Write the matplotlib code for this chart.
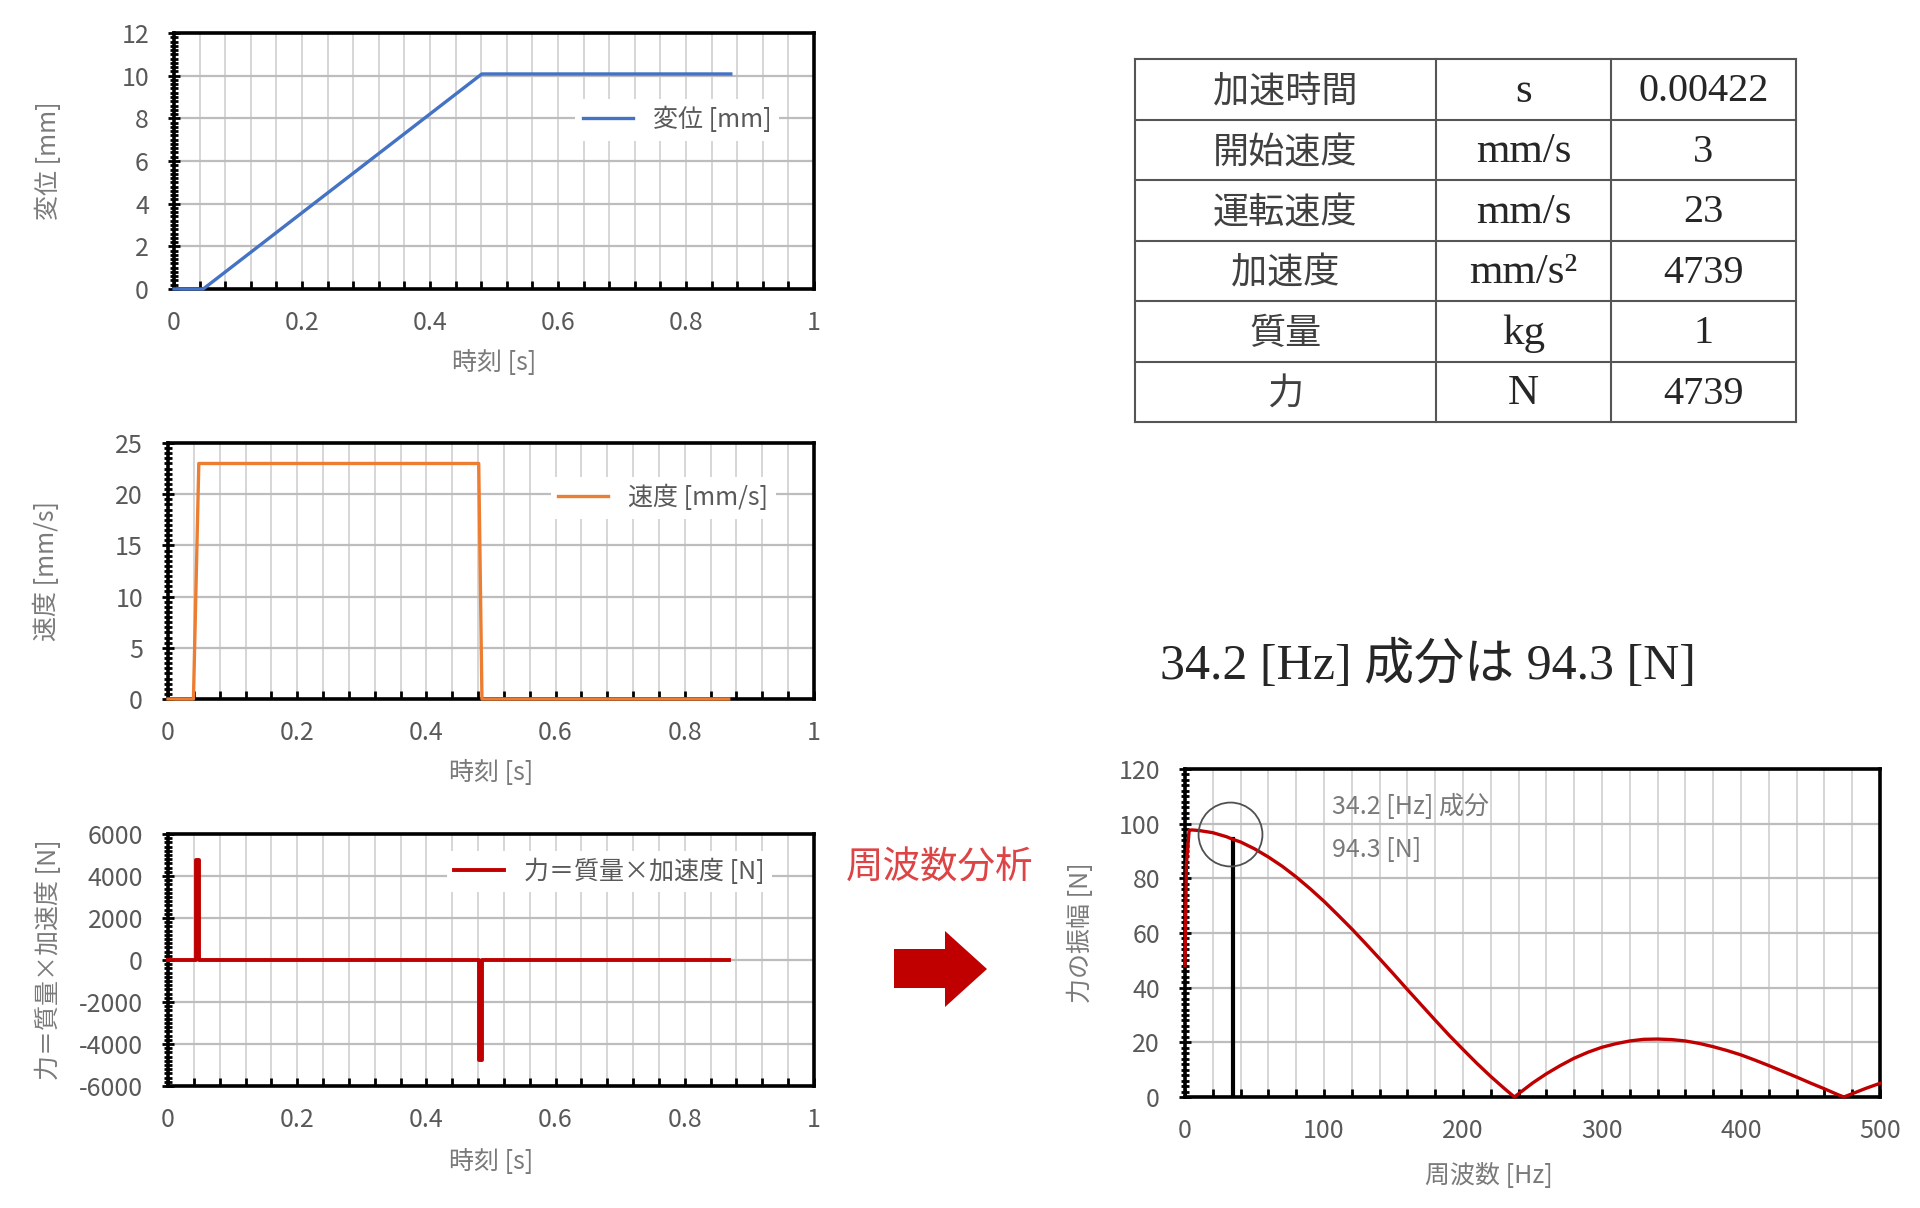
import matplotlib
matplotlib.use('Agg')
import matplotlib.pyplot as plt
from matplotlib.ticker import MultipleLocator, FuncFormatter
from matplotlib.patches import Polygon

plt.rcParams['font.family'] = ['Noto Sans CJK JP', 'DejaVu Sans']
plt.rcParams['axes.unicode_minus'] = False

# ---- データ ----
disp_t = [0, 0.0456, 0.481, 0.870]
disp_mm = [0, 0, 10.08, 10.08]

vel_t = [0, 0.0394, 0.0477, 0.481, 0.486, 0.868]
vel_mms = [0, 0, 23, 23, 0, 0]

force_t = [0, 0.0437, 0.0437, 0.0479, 0.0479, 0.4812, 0.4812, 0.4854, 0.4854, 0.868]
force_n = [0, 0, 4739, 4739, 0, 0, -4739, -4739, 0, 0]

fft_f = [0, 1, 3, 5, 10, 20, 30, 34.2, 40, 50, 60, 70, 80, 90, 100, 110, 120, 130,
         140, 150, 160, 170, 180, 190, 200, 210, 220, 230, 237, 240, 250, 260, 270,
         280, 290, 300, 310, 320, 330, 340, 350, 360, 370, 380, 390, 400, 410, 420,
         430, 440, 450, 460, 470, 474, 480, 490, 500]
fft_amp = [48, 85, 97.6, 97.7, 97.5, 96.7, 95.2, 94.3, 93.3, 90.8, 87.8, 84.4, 80.5,
           76.2, 71.6, 66.6, 61.5, 56.1, 50.6, 45.0, 39.3, 33.7, 28.1, 22.6, 17.4,
           12.3, 7.5, 3.0, 0, 1.2, 5.1, 8.5, 11.5, 14.2, 16.4, 18.2, 19.5, 20.5, 21.1,
           21.2, 21.0, 20.5, 19.6, 18.4, 17.0, 15.4, 13.5, 11.5, 9.4, 7.3, 5.1, 3.0,
           0.8, 0, 1.2, 3.2, 5.0]

peak_f = 34.2
peak_amp = 94.3

param_names = ['加速時間', '開始速度', '運転速度', '加速度', '質量', '力']
param_units = ['s', 'mm/s', 'mm/s', 'mm/s²', 'kg', 'N']
param_values = ['0.00422', '3', '23', '4739', '1', '4739']

W, H = 1920, 1208
fig = plt.figure(figsize=(W / 100, H / 100), dpi=100)
fig.patch.set_facecolor('white')


def px_axes(l, t, r, b):
    return fig.add_axes([l / W, 1 - b / H, (r - l) / W, (b - t) / H])


TICK_C = '#595959'
LABEL_C = '#7a7a7a'


def style(ax, xlim, xmaj, xmin, ylim, ymaj, ymin):
    ax.set_xlim(*xlim)
    ax.set_ylim(*ylim)
    ax.xaxis.set_major_locator(MultipleLocator(xmaj))
    ax.xaxis.set_minor_locator(MultipleLocator(xmin))
    ax.yaxis.set_major_locator(MultipleLocator(ymaj))
    ax.yaxis.set_minor_locator(MultipleLocator(ymin))
    ax.xaxis.set_major_formatter(FuncFormatter(lambda v, p: f'{v:g}'))
    ax.yaxis.set_major_formatter(FuncFormatter(lambda v, p: f'{v:g}'))
    ax.set_axisbelow(True)
    ax.grid(which='major', axis='y', color='#bdbdbd', lw=1.6)
    ax.grid(which='both', axis='x', color='#d0d0d0', lw=1.2)
    for s in ax.spines.values():
        s.set_linewidth(2.6)
        s.set_color('black')
    ax.tick_params(axis='x', which='both', direction='in', length=6, width=2,
                   color='black', labelsize=18, labelcolor=TICK_C, pad=15)
    ax.tick_params(axis='y', which='major', direction='inout', length=8, width=2,
                   color='black', labelsize=18, labelcolor=TICK_C, pad=14)
    ax.tick_params(axis='y', which='minor', direction='inout', length=6, width=2,
                   color='black')


def labels(ax, xl, yl, xpos, ypos, xc=0.5):
    ax.set_xlabel(xl, fontsize=18, color=LABEL_C)
    ax.set_ylabel(yl, fontsize=18, color=LABEL_C)
    ax.xaxis.set_label_coords(xc, xpos)
    ax.yaxis.set_label_coords(ypos, 0.5)
    ax.xaxis.label.set_va('center')
    ax.yaxis.label.set_va('center')


def legend(ax, anchor):
    ax.legend(loc='center right', bbox_to_anchor=anchor, frameon=True,
              facecolor='white', edgecolor='none', framealpha=1, fancybox=False,
              fontsize=18, labelcolor=TICK_C, handlelength=2.0, borderpad=0.3)


# 変位
ax1 = px_axes(174, 33, 814, 289)
ax1.plot(disp_t, disp_mm, color='#4472c4', lw=2.4, label='変位 [mm]',
         zorder=5, clip_on=False)
style(ax1, (0, 1), 0.2, 0.04, (0, 12), 2, 0.2)
labels(ax1, '時刻 [s]', '変位 [mm]', -0.29, -0.195)
legend(ax1, (0.965, 0.66))

# 速度
ax2 = px_axes(168, 443, 814, 699)
ax2.plot(vel_t, vel_mms, color='#ed7d31', lw=2.4, label='速度 [mm/s]',
         zorder=5, clip_on=False)
style(ax2, (0, 1), 0.2, 0.04, (0, 25), 5, 0.5)
labels(ax2, '時刻 [s]', '速度 [mm/s]', -0.29, -0.187)
legend(ax2, (0.96, 0.785))

# 力
ax3 = px_axes(168, 834, 814, 1086)
ax3.plot(force_t, force_n, color='#c00000', lw=2.8, label='力＝質量×加速度 [N]',
         zorder=5, clip_on=False)
style(ax3, (0, 1), 0.2, 0.04, (-6000, 6000), 2000, 200)
labels(ax3, '時刻 [s]', '力＝質量×加速度 [N]', -0.30, -0.184)
legend(ax3, (0.955, 0.85))

# 周波数分析
ax4 = px_axes(1185, 769, 1880, 1097)
ax4.plot(fft_f, fft_amp, color='#c00000', lw=2.4, zorder=5, clip_on=False)
ax4.plot([peak_f, peak_f], [0, peak_amp], color='black', lw=3, zorder=4)
ax4.plot([32.6], [96.3], marker='o', ms=46, mfc='none', mec='#505050', mew=1.3, zorder=6)
style(ax4, (0, 500), 100, 20, (0, 120), 20, 2)
ax4.grid(which='minor', axis='x', color='#d0d0d0', lw=1.2)
labels(ax4, '周波数 [Hz]', '力の振幅 [N]', -0.24, -0.15, xc=0.437)
ax4.text(106, 106, f'{peak_f} [Hz] 成分', fontsize=18, color=LABEL_C, va='center')
ax4.text(106, 90.4, f'{peak_amp} [N]', fontsize=18, color=LABEL_C, va='center')

# 表
axt = px_axes(1135, 59, 1796, 422)
axt.set_xlim(0, 1)
axt.set_ylim(len(param_names), 0)
axt.axis('off')
col_edges = [0, 0.455, 0.72, 1]
for y in range(len(param_names) + 1):
    axt.plot([0, 1], [y, y], color='#555555', lw=1.5, clip_on=False)
for x in col_edges:
    axt.plot([x, x], [0, len(param_names)], color='#555555', lw=1.5, clip_on=False)
serif = ['Liberation Serif', 'DejaVu Serif']
for i, (n, u, v) in enumerate(zip(param_names, param_units, param_values)):
    yc = i + 0.54
    axt.text((col_edges[0] + col_edges[1]) / 2, yc, n, fontsize=26, color='#404040',
             ha='center', va='center')
    axt.text((col_edges[1] + col_edges[2]) / 2, yc, u, fontsize=31, color='#262626',
             ha='center', va='center', family=serif)
    axt.text((col_edges[2] + col_edges[3]) / 2, yc, v, fontsize=29, color='#262626',
             ha='center', va='center', family=serif)

# タイトル・矢印
fig.text(1428 / W, 1 - 665 / H, f'{peak_f} [Hz] 成分は {peak_amp} [N]', fontsize=36,
         color='#262626', ha='center', va='center',
         family=['Liberation Serif', 'Noto Sans CJK JP'])
fig.text(940 / W, 1 - 868 / H, '周波数分析', fontsize=27, color='#dc4446',
         ha='center', va='center')
arrow_px = [(894, 949), (945, 949), (945, 931), (987, 969), (945, 1007), (945, 988), (894, 988)]
fig.patches.append(Polygon([(x / W, 1 - y / H) for x, y in arrow_px], closed=True,
                           transform=fig.transFigure, facecolor='#c00000', edgecolor='none'))

fig.savefig('out.png', dpi=100, facecolor='white')
